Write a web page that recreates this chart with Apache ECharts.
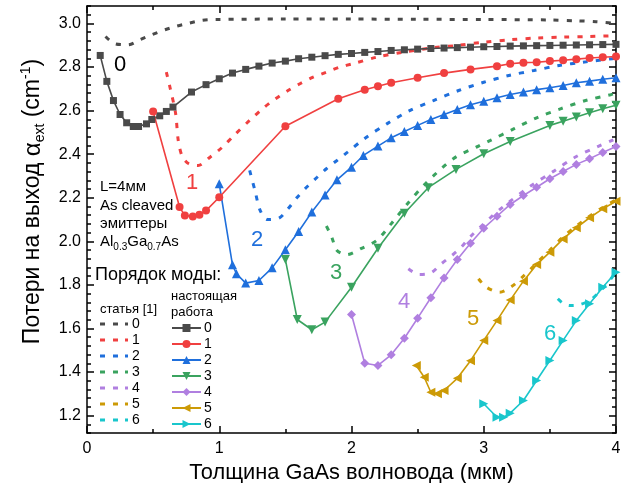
<!DOCTYPE html>
<html>
<head>
<meta charset="utf-8">
<script src="https://cdn.jsdelivr.net/npm/echarts@6/dist/echarts.min.js"></script>
<style>html,body{margin:0;padding:0;background:#fff}#c{width:625px;height:483px}</style>
</head>
<body>
<div id="c"></div>
<script>
// ---- data ----
const modes = ['0','1','2','3','4','5','6'];
const xTicks = [0, 1, 2, 3, 4];
const yTicks = [1.2, 1.4, 1.6, 1.8, 2.0, 2.2, 2.4, 2.6, 2.8, 3.0];

// reference [1] (dotted)
const ref0 = [[0.14,2.94],[0.21,2.907],[0.31,2.902],[0.4,2.925],[0.49,2.948],[0.59,2.971],[0.67,2.986],[0.77,3.001],[0.87,3.014],[0.97,3.018],[1.5,3.02],[2.0,3.02],[2.5,3.019],[3.0,3.018],[3.5,3.016],[3.7,3.012],[3.85,3.008],[4.0,3.0]];
const ref1 = [[0.6,2.776],[0.63,2.7],[0.67,2.587],[0.69,2.463],[0.72,2.39],[0.77,2.356],[0.84,2.348],[0.93,2.386],[1.02,2.43],[1.11,2.485],[1.23,2.555],[1.33,2.61],[1.42,2.652],[1.52,2.692],[1.61,2.723],[1.71,2.753],[1.81,2.776],[1.91,2.799],[2.01,2.815],[2.19,2.845],[2.39,2.868],[2.6,2.887],[2.8,2.899],[3.0,2.914],[3.2,2.925],[3.4,2.933],[3.6,2.937],[3.8,2.94],[4.0,2.944]];
const ref2 = [[1.23,2.325],[1.27,2.233],[1.31,2.141],[1.365,2.1],[1.45,2.106],[1.52,2.149],[1.59,2.202],[1.66,2.248],[1.74,2.294],[1.81,2.333],[1.89,2.371],[1.97,2.409],[2.1,2.472],[2.27,2.54],[2.44,2.6],[2.62,2.646],[2.81,2.692],[3.0,2.73],[3.19,2.761],[3.38,2.784],[3.57,2.807],[3.75,2.822],[3.97,2.838],[4.0,2.84]];
const ref3 = [[1.81,2.07],[1.85,2.02],[1.89,1.958],[1.965,1.939],[2.07,1.966],[2.19,2.004],[2.3,2.08],[2.42,2.17],[2.56,2.265],[2.77,2.379],[2.96,2.437],[3.05,2.463],[3.23,2.517],[3.4,2.567],[3.58,2.608],[3.77,2.646],[3.96,2.673],[4.0,2.68]];
const ref4 = [[2.43,1.874],[2.51,1.848],[2.6,1.855],[2.68,1.897],[2.76,1.935],[2.83,1.973],[2.9,2.022],[3.05,2.108],[3.12,2.145],[3.2,2.184],[3.36,2.256],[3.53,2.322],[3.69,2.386],[3.87,2.437],[3.98,2.466]];
const ref5 = [[2.96,1.828],[3.02,1.789],[3.12,1.766],[3.21,1.792],[3.3,1.84],[3.4,1.9],[3.5,1.96],[3.6,2.02],[3.7,2.07],[3.8,2.115],[3.9,2.155],[4.0,2.19]];
const ref6 = [[3.56,1.736],[3.6,1.715],[3.65,1.705],[3.72,1.708],[3.8,1.728],[3.87,1.765],[3.94,1.81],[4.0,1.86]];

// present work (solid with markers)
const pw0 = [[0.1,2.853],[0.15,2.734],[0.2,2.646],[0.25,2.582],[0.3,2.544],[0.35,2.527],[0.39,2.527],[0.45,2.539],[0.49,2.559],[0.55,2.576],[0.6,2.596],[0.65,2.616],[0.79,2.685],[0.9,2.719],[1.0,2.746],[1.1,2.772],[1.2,2.789],[1.3,2.804],[1.4,2.818],[1.5,2.827],[1.6,2.838],[1.7,2.845],[1.8,2.852],[1.9,2.858],[2.0,2.862],[2.1,2.867],[2.2,2.871],[2.3,2.876],[2.4,2.879],[2.5,2.882],[2.6,2.885],[2.7,2.887],[2.8,2.889],[2.9,2.891],[3.0,2.893],[3.1,2.894],[3.2,2.896],[3.3,2.897],[3.4,2.898],[3.5,2.899],[3.6,2.9],[3.7,2.901],[3.8,2.902],[3.9,2.903],[4.0,2.904]];
const pw1 = [[0.5,2.596],[0.7,2.157],[0.74,2.118],[0.8,2.114],[0.85,2.122],[0.9,2.141],[1.0,2.202],[1.5,2.528],[1.9,2.654],[2.1,2.696],[2.2,2.712],[2.3,2.728],[2.5,2.751],[2.7,2.772],[2.9,2.789],[3.1,2.804],[3.2,2.815],[3.3,2.82],[3.4,2.822],[3.5,2.827],[3.6,2.831],[3.7,2.836],[3.8,2.841],[3.9,2.845],[4.0,2.848]];
const pw2 = [[1.0,2.264],[1.1,1.892],[1.13,1.851],[1.2,1.808],[1.3,1.82],[1.4,1.878],[1.5,1.961],[1.6,2.045],[1.7,2.134],[1.8,2.213],[1.89,2.282],[2.0,2.34],[2.09,2.394],[2.2,2.437],[2.3,2.475],[2.4,2.504],[2.5,2.532],[2.6,2.559],[2.7,2.582],[2.8,2.605],[2.9,2.627],[3.0,2.643],[3.1,2.659],[3.2,2.674],[3.3,2.685],[3.4,2.696],[3.5,2.705],[3.6,2.715],[3.7,2.728],[3.8,2.735],[3.9,2.744],[4.0,2.751]];
const pw3 = [[1.5,1.916],[1.59,1.641],[1.7,1.594],[1.8,1.629],[2.0,1.789],[2.2,1.968],[2.4,2.129],[2.58,2.246],[2.79,2.33],[3.0,2.402],[3.2,2.458],[3.5,2.532],[3.6,2.551],[3.7,2.57],[3.8,2.59],[3.9,2.608],[4.0,2.624]];
const pw4 = [[2.0,1.664],[2.1,1.44],[2.2,1.43],[2.3,1.479],[2.4,1.555],[2.5,1.647],[2.6,1.741],[2.7,1.832],[2.8,1.916],[2.9,1.991],[3.0,2.06],[3.1,2.115],[3.2,2.169],[3.3,2.21],[3.4,2.248],[3.5,2.287],[3.6,2.32],[3.7,2.353],[3.8,2.379],[3.9,2.408],[4.0,2.435]];
const pw5 = [[2.49,1.43],[2.55,1.376],[2.6,1.307],[2.65,1.3],[2.7,1.315],[2.8,1.371],[2.9,1.452],[3.0,1.545],[3.1,1.636],[3.2,1.73],[3.3,1.817],[3.4,1.893],[3.5,1.95],[3.6,2.011],[3.7,2.062],[3.8,2.108],[3.9,2.149],[4.0,2.184]];
const pw6 = [[3.0,1.254],[3.1,1.192],[3.15,1.192],[3.2,1.211],[3.3,1.269],[3.4,1.361],[3.5,1.453],[3.6,1.545],[3.7,1.636],[3.8,1.713],[3.9,1.789],[4.0,1.858]];

// ---- styling ----
const FONT = "'Liberation Sans', Arial, sans-serif";
const colors = ['#4a4a4a', '#f04040', '#1f6fdc', '#3aa35f', '#b07fe0', '#cc9a06', '#19c6cc'];
const refData = [ref0, ref1, ref2, ref3, ref4, ref5, ref6];
const pwData = [pw0, pw1, pw2, pw3, pw4, pw5, pw6];
const symbols = ['rect', 'circle', 'triangle', 'triangle', 'diamond', 'triangle', 'triangle'];
const rotations = [0, 0, 0, 180, 0, 90, -90];
const symSizes = [7, 8, 9, 9, 9, 9, 9];

const series = [];
refData.forEach((d, i) => {
  series.push({
    name: 'ref' + modes[i], type: 'line', data: d, smooth: 0.3,
    symbol: 'none', showSymbol: false, clip: false, z: 2,
    itemStyle: { color: colors[i] },
    lineStyle: { color: colors[i], width: 3, type: [5, 8], cap: 'butt' }
  });
});
pwData.forEach((d, i) => {
  series.push({
    name: 'pw' + modes[i], type: 'line', data: d, smooth: false,
    symbol: symbols[i], symbolSize: symSizes[i], symbolRotate: rotations[i],
    showSymbol: true, showAllSymbol: true, clip: false, z: 3,
    itemStyle: { color: colors[i] },
    lineStyle: { color: colors[i], width: 1.6 }
  });
});

const axisLineStyle = { color: '#000', width: 1.5 };
const minorYTicks = [];
for (let k = 28; k <= 77; k++) minorYTicks.push(+(k * 0.04).toFixed(2));

const dotIcon = 'path://M0,0h5v3h-5z M13,0h5v3h-5z M25,0h3v3h-3z';

const labelPos = [[120,65],[192,183],[257,240],[336,273],[404,302],[473,319],[550,334]];

const option = {
  animation: false,
  backgroundColor: '#fff',
  grid: { left: 87, right: 9, top: 6, bottom: 50, containLabel: false, outerBoundsMode: 'none' },
  xAxis: [
    {
      type: 'value', min: 0, max: 4, interval: 1, position: 'bottom',
      axisLine: { lineStyle: axisLineStyle },
      axisTick: { inside: true, length: 7, lineStyle: axisLineStyle },
      minorTick: { show: true, splitNumber: 2, length: 4, lineStyle: axisLineStyle },
      splitLine: { show: false },
      axisLabel: { color: '#000', fontSize: 16, fontFamily: FONT, margin: 8, customValues: xTicks },
      name: 'Толщина GaAs волновода (мкм)', nameLocation: 'middle', nameGap: 22,
      nameTextStyle: { color: '#000', fontSize: 21.8, fontFamily: FONT }
    },
    {
      type: 'value', min: 0, max: 4, interval: 1, position: 'top',
      axisLine: { lineStyle: axisLineStyle },
      axisTick: { inside: true, length: 7, lineStyle: axisLineStyle },
      minorTick: { show: true, splitNumber: 2, length: 4, lineStyle: axisLineStyle },
      splitLine: { show: false }, axisLabel: { show: false }
    }
  ],
  yAxis: [
    {
      type: 'value', min: 1.12, max: 3.08, position: 'left',
      axisLine: { show: true, lineStyle: axisLineStyle },
      axisTick: { show: true, inside: true, length: 7, lineStyle: axisLineStyle, customValues: yTicks },
      splitLine: { show: false },
      axisLabel: { color: '#000', fontSize: 16, fontFamily: FONT, margin: 6, customValues: yTicks,
        formatter: v => v.toFixed(1) },
      name: '{n|Потери на выход }{a|α}{s|ext}{n| (cm}{p|-1}{n|)}',
      nameLocation: 'middle', nameGap: 40,
      nameTextStyle: {
        color: '#000', fontFamily: FONT, padding: [0, 0, 0, 36],
        rich: {
          n: { fontSize: 23, fontFamily: FONT, color: '#000', lineHeight: 28 },
          a: { fontSize: 24, fontFamily: FONT, color: '#000', lineHeight: 28 },
          s: { fontSize: 14, fontFamily: FONT, color: '#000', lineHeight: 13, verticalAlign: 'bottom' },
          p: { fontSize: 14, fontFamily: FONT, color: '#000', lineHeight: 13, verticalAlign: 'top' }
        }
      }
    },
    {
      type: 'value', min: 1.12, max: 3.08, position: 'left',
      axisLine: { show: false },
      axisTick: { show: true, inside: true, length: 4, lineStyle: axisLineStyle, customValues: minorYTicks },
      splitLine: { show: false }, axisLabel: { show: false }
    },
    {
      type: 'value', min: 1.12, max: 3.08, position: 'right',
      axisLine: { show: true, lineStyle: axisLineStyle },
      axisTick: { show: true, inside: true, length: 7, lineStyle: axisLineStyle, customValues: yTicks },
      splitLine: { show: false }, axisLabel: { show: false }
    },
    {
      type: 'value', min: 1.12, max: 3.08, position: 'right',
      axisLine: { show: false },
      axisTick: { show: true, inside: true, length: 4, lineStyle: axisLineStyle, customValues: minorYTicks },
      splitLine: { show: false }, axisLabel: { show: false }
    }
  ],
  legend: [
    {
      orient: 'vertical', left: 100, top: 316, padding: 0, itemGap: 0,
      itemWidth: 28, itemHeight: 3, icon: dotIcon, selectedMode: false,
      data: modes.map(m => 'ref' + m),
      formatter: name => name.replace('ref', ''),
      textStyle: { color: '#000', fontSize: 14, fontFamily: FONT, lineHeight: 16, padding: [0, 0, 0, -1] }
    },
    {
      orient: 'vertical', left: 171, top: 320, padding: 0, itemGap: 0,
      itemWidth: 29, itemHeight: 10, selectedMode: false,
      data: modes.map(m => 'pw' + m),
      formatter: name => name.replace('pw', ''),
      textStyle: { color: '#000', fontSize: 14, fontFamily: FONT, lineHeight: 16, padding: [0, 0, 0, -2] }
    }
  ],
  graphic: [
    { type: 'text', x: 100, y: 187, style: { text: 'L=4мм', fontSize: 15, fontFamily: FONT, fill: '#000', verticalAlign: 'middle' } },
    { type: 'text', x: 100, y: 206, style: { text: 'As cleaved', fontSize: 15, fontFamily: FONT, fill: '#000', verticalAlign: 'middle' } },
    { type: 'text', x: 100, y: 224, style: { text: 'эмиттеры', fontSize: 15, fontFamily: FONT, fill: '#000', verticalAlign: 'middle' } },
    { type: 'text', x: 100, y: 242, style: {
        text: '{n|Al}{s|0.3}{n|Ga}{s|0.7}{n|As}', verticalAlign: 'middle', fill: '#000',
        rich: {
          n: { fontSize: 15, fontFamily: FONT, fill: '#000', lineHeight: 20 },
          s: { fontSize: 10, fontFamily: FONT, fill: '#000', lineHeight: 10, verticalAlign: 'bottom' }
        } } },
    { type: 'text', x: 95, y: 275, style: { text: 'Порядок моды:', fontSize: 18, fontFamily: FONT, fill: '#000', verticalAlign: 'middle' } },
    { type: 'text', x: 100, y: 309, style: { text: 'статья [1]', fontSize: 13, fontFamily: FONT, fill: '#000', verticalAlign: 'middle' } },
    { type: 'text', x: 171, y: 296, style: { text: 'настоящая', fontSize: 13, fontFamily: FONT, fill: '#000', verticalAlign: 'middle' } },
    { type: 'text', x: 171, y: 312, style: { text: 'работа', fontSize: 13, fontFamily: FONT, fill: '#000', verticalAlign: 'middle' } }
  ].concat(labelPos.map((p, i) => ({
    type: 'text', x: p[0], y: p[1], z: 10,
    style: { text: modes[i], fontSize: 22, fontFamily: FONT, fill: i === 0 ? '#000' : colors[i], align: 'center', verticalAlign: 'middle' }
  }))),
  series: series
};

const chart = echarts.init(document.getElementById('c'), null, { renderer: 'canvas' });
chart.setOption(option);
</script>
</body>
</html>
